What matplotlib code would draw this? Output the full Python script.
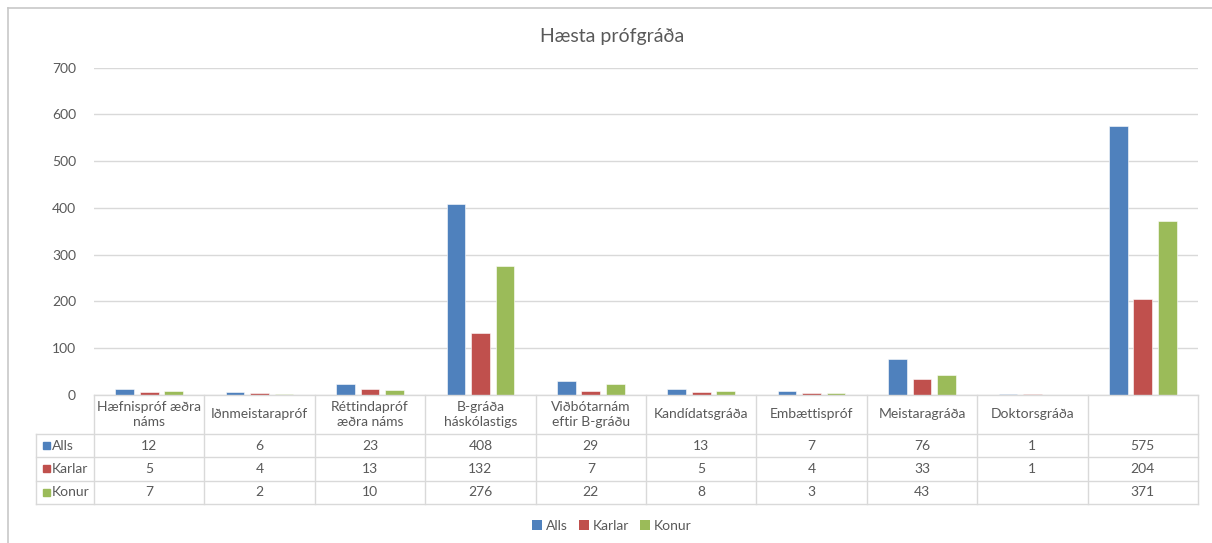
"""
Hæsta prófgráða: grouped bars with an Excel-style data table underneath.
"""

import numpy as np
import matplotlib.pyplot as plt
from matplotlib.patches import Patch
from matplotlib.lines import Line2D

plt.rcParams['font.family'] = ['Lato', 'DejaVu Sans']

# ---- Data ----

categories = [
    'Hæfnispróf æðra\nnáms', 'Iðnmeistarapróf', 'Réttindapróf\næðra náms',
    'B-gráða\nháskólastigs', 'Viðbótarnám\neftir B-gráðu', 'Kandídatsgráða',
    'Embættispróf', 'Meistaragráða', 'Doktorsgráða', '',
]
series_names = ['Alls', 'Karlar', 'Konur']
alls   = [12, 6, 23, 408, 29, 13, 7, 76, 1, 575]
karlar = [5, 4, 13, 132, 7, 5, 4, 33, 1, 204]
konur  = [7, 2, 10, 276, 22, 8, 3, 43, None, 371]
y_ticks = [0, 100, 200, 300, 400, 500, 600, 700]

colors     = ['#4F81BD', '#C0504D', '#9BBB59']
text_color = '#595959'
line_color = '#D9D9D9'

W, H = 1212, 543
fig = plt.figure(figsize=(W / 100, H / 100), dpi=100)


def px_box(left, top, right, bottom):
    """Convert a pixel box (from the top-left) to figure fractions."""
    return [left / W, 1 - bottom / H, (right - left) / W, (bottom - top) / H]


# ---- Outer chart frame (top and left edges visible) ----

frame_color = '#C8C8C8'
fig.add_artist(Line2D([8 / W, 1], [1 - 8 / H, 1 - 8 / H], color=frame_color, lw=1.2))
fig.add_artist(Line2D([8 / W, 8 / W], [0, 1 - 8 / H], color=frame_color, lw=1.2))

# ---- Bar chart ----

ax = fig.add_axes(px_box(94, 67.7, 1198, 394.6))
x = np.arange(len(categories))
bar_width = 0.169
step = 0.222

all_series = [alls, karlar, konur]
for i, (name, values, color) in enumerate(zip(series_names, all_series, colors)):
    heights = [np.nan if v is None else v for v in values]
    ax.bar(x + (i - 1) * step, heights, width=bar_width, color=color,
           edgecolor='white', linewidth=0.4, zorder=3)

ax.set_xlim(-0.5, len(categories) - 0.5)
ax.set_ylim(0, 700)
ax.set_yticks(y_ticks)
ax.set_xticks([])
ax.tick_params(axis='y', length=0, pad=13, labelsize=10, labelcolor=text_color)
ax.grid(axis='y', color=line_color, linewidth=1, zorder=0)
for side in ['top', 'right', 'left', 'bottom']:
    ax.spines[side].set_visible(False)

fig.text(612 / W, 1 - 36 / H, 'Hæsta prófgráða', ha='center', va='center',
         fontsize=14, color=text_color)

# ---- Data table ----

header_h = 39
row_h = 23.3
table_h = header_h + 3 * row_h
tab = fig.add_axes(px_box(94, 395, 1198, 395 + table_h))
tab.set_xlim(-0.5, len(categories) - 0.5)
tab.set_ylim(table_h, 0)
tab.axis('off')

left_edge = -0.5 - 58 / 110.4

# horizontal lines
tab.plot([-0.5, len(categories) - 0.5], [0, 0], color=line_color, lw=1, clip_on=False)
for r in range(4):
    yy = header_h + r * row_h
    tab.plot([left_edge, len(categories) - 0.5], [yy, yy], color=line_color, lw=1, clip_on=False)

# vertical lines
for c in range(len(categories) + 1):
    tab.plot([c - 0.5, c - 0.5], [0, table_h], color=line_color, lw=1, clip_on=False)
tab.plot([left_edge, left_edge], [header_h, table_h], color=line_color, lw=1, clip_on=False)

# header labels
for c, label in enumerate(categories):
    tab.text(c, header_h / 2, label, ha='center', va='center', fontsize=10,
             color=text_color, linespacing=1.25)

# rows
for r, (name, values, color) in enumerate(zip(series_names, all_series, colors)):
    yc = header_h + (r + 0.5) * row_h
    tab.add_patch(plt.Rectangle((left_edge + 0.065, yc - 3.5), 0.063, 7,
                                color=color, clip_on=False))
    tab.text(left_edge + 0.145, yc, name, ha='left', va='center', fontsize=10,
             color=text_color)
    for c, v in enumerate(values):
        if v is not None:
            tab.text(c, yc, str(v), ha='center', va='center', fontsize=10,
                     color=text_color)

# ---- Legend ----

handles = [Patch(facecolor=c, label=n) for n, c in zip(series_names, colors)]
fig.legend(handles=handles, loc='center', bbox_to_anchor=(612 / W, 1 - 526 / H),
           ncol=3, frameon=False, fontsize=10, handlelength=0.7, handleheight=0.7,
           handletextpad=0.3, columnspacing=0.8, labelcolor=text_color)

plt.savefig('out.png', dpi=100)
